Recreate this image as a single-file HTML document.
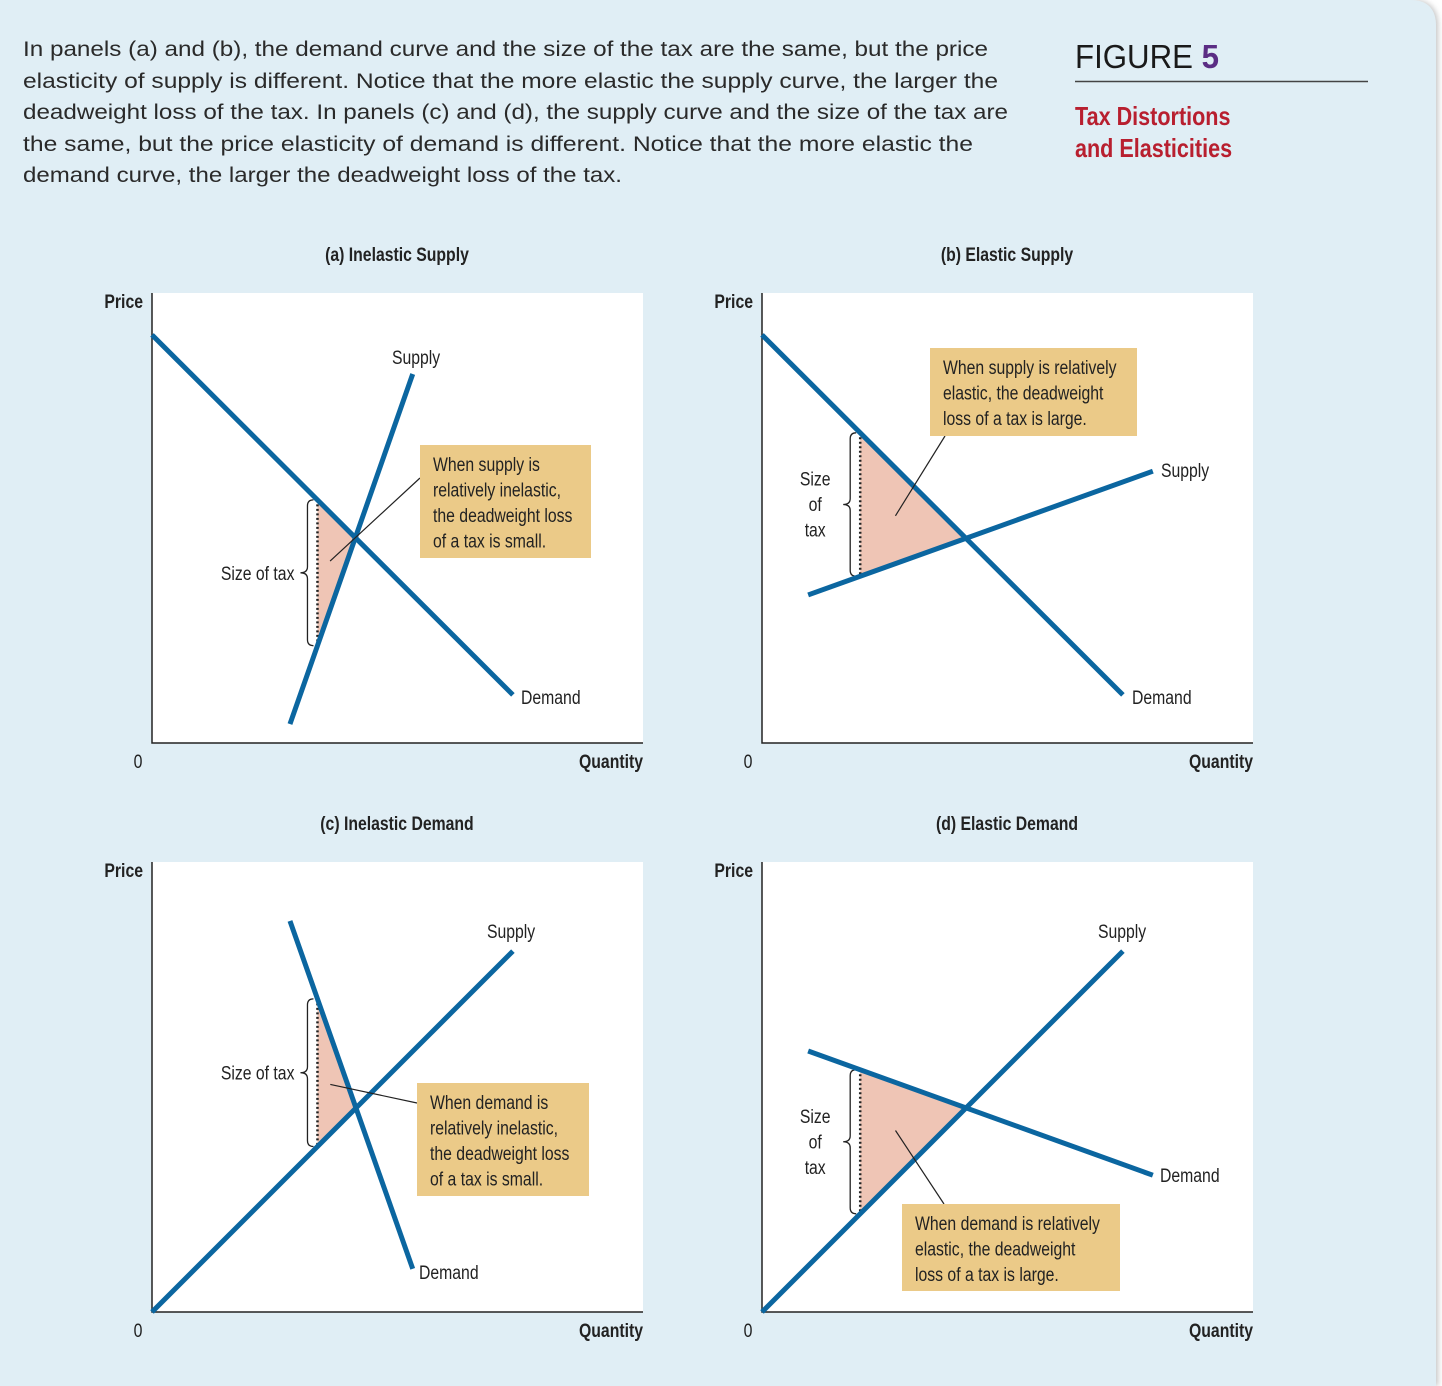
<!DOCTYPE html>
<html><head><meta charset="utf-8"><style>
body{margin:0;width:1442px;height:1386px;background:#fff;overflow:hidden}
svg{display:block}
.lab{font-family:"Liberation Sans Narrow","Liberation Sans",sans-serif;font-size:19px;fill:#222}
.b{font-weight:bold}
.hdr{font-family:"Liberation Sans",sans-serif;font-size:21.6px;fill:#2a2a2a}
</style></head><body>
<svg id="fig" width="1442" height="1386">
<defs><filter id="sh" x="-5%" y="-5%" width="110%" height="110%"><feDropShadow dx="2" dy="0" stdDeviation="3" flood-color="#888" flood-opacity="0.5"/></filter></defs>
<path d="M0,0 H1410 Q1436,0 1436,26 V1386 H0 Z" fill="#e0eef5" filter="url(#sh)"/>
<g>
<text class="hdr" x="23" y="56" textLength="965" lengthAdjust="spacingAndGlyphs">In panels (a) and (b), the demand curve and the size of the tax are the same, but the price</text>
<text class="hdr" x="23" y="88" textLength="975" lengthAdjust="spacingAndGlyphs">elasticity of supply is different. Notice that the more elastic the supply curve, the larger the</text>
<text class="hdr" x="23" y="119" textLength="985" lengthAdjust="spacingAndGlyphs">deadweight loss of the tax. In panels (c) and (d), the supply curve and the size of the tax are</text>
<text class="hdr" x="23" y="151" textLength="950" lengthAdjust="spacingAndGlyphs">the same, but the price elasticity of demand is different. Notice that the more elastic the</text>
<text class="hdr" x="23" y="182" textLength="599" lengthAdjust="spacingAndGlyphs">demand curve, the larger the deadweight loss of the tax.</text>
</g>
<text x="1075" y="68" font-family="Liberation Sans,sans-serif" font-size="33" fill="#1a1a1a" textLength="144" lengthAdjust="spacingAndGlyphs">FIGURE <tspan fill="#5b2d84" font-weight="bold">5</tspan></text>
<line x1="1075" y1="81.5" x2="1368" y2="81.5" stroke="#444" stroke-width="1.5"/>
<text class="lab b" x="1075" y="125" style="fill:#b81f2f;font-size:26px">Tax Distortions</text>
<text class="lab b" x="1075" y="157" style="fill:#b81f2f;font-size:26px">and Elasticities</text>
<g id="panels"></g>
</svg>
<script>
// panel data (quantity 0..10, price 0..10 units)
const panelTitles = ["(a) Inelastic Supply","(b) Elastic Supply","(c) Inelastic Demand","(d) Elastic Demand"];
const demandA = [[0,9.07],[7.35,1.07]];
const supplyA = [[2.81,0.42],[5.31,8.2]];
const demandB = [[0,9.07],[7.35,1.07]];
const supplyB = [[0.94,3.29],[7.96,6.04]];
const demandC = [[2.81,8.69],[5.31,0.96]];
const supplyC = [[0,0],[7.35,8.02]];
const demandD = [[0.94,5.8],[7.96,3.04]];
const supplyD = [[0,0],[7.35,8.02]];
const taxQ = [3.37,2.0,3.37,2.0];
const notes = [
 ["When supply is","relatively inelastic,","the deadweight loss","of a tax is small."],
 ["When supply is relatively","elastic, the deadweight","loss of a tax is large."],
 ["When demand is","relatively inelastic,","the deadweight loss","of a tax is small."],
 ["When demand is relatively","elastic, the deadweight","loss of a tax is large."]];
const demands=[demandA,demandB,demandC,demandD], supplies=[supplyA,supplyB,supplyC,supplyD];
// layout
const origins=[[152,743],[762,743],[152,1312],[762,1312]];
const boxes=[[420,445,171,113],[930,348,207,88],[417,1083,172,113],[902,1204,218,87]];
const pointers=[[420,478],[945,436],[417,1103],[944,1204]];
const supLab=[[392,364],[1161,477],[487,938],[1098,938]];
const demLab=[[521,704],[1132,704],[419,1279],[1160,1182]];
const narrowTax=[false,true,false,true];
const NS="http://www.w3.org/2000/svg";
const root=document.getElementById('panels');
function mk(t,a,p){const e=document.createElementNS(NS,t);for(const k in a)e.setAttribute(k,a[k]);(p||root).appendChild(e);return e;}
function lineAt(l,q){const[[x1,y1],[x2,y2]]=l;return y1+(y2-y1)*(q-x1)/(x2-x1);}
function inter(d,s){const md=(d[1][1]-d[0][1])/(d[1][0]-d[0][0]),ms=(s[1][1]-s[0][1])/(s[1][0]-s[0][0]);
 const bd=d[0][1]-md*d[0][0],bs=s[0][1]-ms*s[0][0];const q=(bs-bd)/(md-ms);return [q,md*q+bd];}
for(let i=0;i<4;i++){
 const [ox,oy]=origins[i];const X=q=>ox+q*49.1, Y=p=>oy-p*45;
 const g=mk('g',{});
 
 
 const bg=mk('rect',{x:ox,y:oy-450,width:491,height:450,fill:'#fff'},g);
 
 
 const t=mk('text',{x:ox+245,y:oy-482,'text-anchor':'middle',class:'lab b'},g);t.textContent=panelTitles[i];
 
 
 const ax=mk('path',{d:`M${ox},${oy-450} V${oy} H${ox+491}`,stroke:'#222','stroke-width':1.5,fill:'none'},g);
 
 
 const pl=mk('text',{x:ox-9,y:oy-435,'text-anchor':'end',class:'lab b'},g);pl.textContent='Price';
 
 
 const ql=mk('text',{x:ox+491,y:oy+25,'text-anchor':'end',class:'lab b'},g);ql.textContent='Quantity';
 
 
 const zl=mk('text',{x:ox-14,y:oy+25,'text-anchor':'middle',class:'lab'},g);zl.textContent='0';
 
 
 const d=demands[i],s=supplies[i],q=taxQ[i];
 const pd=lineAt(d,q),ps=lineAt(s,q),e=inter(d,s);
 const tri=mk('polygon',{points:`${X(q)},${Y(pd)} ${X(q)},${Y(ps)} ${X(e[0])},${Y(e[1])}`,fill:'#efc5b5'},g);
 
 
 const dl=mk('line',{x1:X(q),y1:Y(pd),x2:X(q),y2:Y(ps),stroke:'#222','stroke-width':2.5,'stroke-dasharray':'2 2.5'},g);
 
 
 const bx=X(q)-11,y1=Y(pd),y2=Y(ps),m=(y1+y2)/2;
 const br=mk('path',{d:`M${bx+7},${y1} q-6,0 -6,6 L${bx+1},${m-6} q0,6 -7,6 q7,0 7,6 L${bx+1},${y2-6} q0,6 6,6`,stroke:'#222','stroke-width':1.3,fill:'none'},g);
 
 
 if(narrowTax[i]){['Size','of','tax'].forEach((w,k)=>{const tt=mk('text',{x:bx-34,y:m-19+k*25.5,'text-anchor':'middle',class:'lab'},g);tt.textContent=w;
  
  });}
 else{const tt=mk('text',{x:bx-12,y:m+7,'text-anchor':'end',class:'lab'},g);tt.textContent='Size of tax';
  
  }
 const dln=mk('line',{x1:X(d[0][0]),y1:Y(d[0][1]),x2:X(d[1][0]),y2:Y(d[1][1]),stroke:'#0b66a0','stroke-width':5},g);
 
 
 const sln=mk('line',{x1:X(s[0][0]),y1:Y(s[0][1]),x2:X(s[1][0]),y2:Y(s[1][1]),stroke:'#0b66a0','stroke-width':5},g);
 
 
 const sl=mk('text',{x:supLab[i][0],y:supLab[i][1],class:'lab'},g);sl.textContent='Supply';
 
 
 const dlb=mk('text',{x:demLab[i][0],y:demLab[i][1],class:'lab'},g);dlb.textContent='Demand';
 
 
 const cx=(2*X(q)+X(e[0]))/3,cy=(Y(pd)+Y(ps)+Y(e[1]))/3;
 const pt=mk('line',{x1:pointers[i][0],y1:pointers[i][1],x2:cx,y2:cy,stroke:'#222','stroke-width':1.2},g);
 
 
 const [bxx,byy,bw,bh]=boxes[i];
 const nb=mk('rect',{x:bxx,y:byy,width:bw,height:bh,fill:'#ebca88'},g);
 
 
 notes[i].forEach((ln,k)=>{const tt=mk('text',{x:bxx+13,y:byy+26+k*25.5,class:'lab'},g);tt.textContent=ln;
  
  });
}
// condense label text to mimic a narrow typeface
document.querySelectorAll('text.lab').forEach(t=>{
 const w=t.getComputedTextLength();
 t.setAttribute('textLength',(w*0.83).toFixed(1));
 t.setAttribute('lengthAdjust','spacingAndGlyphs');
});
</script>
</body></html>
